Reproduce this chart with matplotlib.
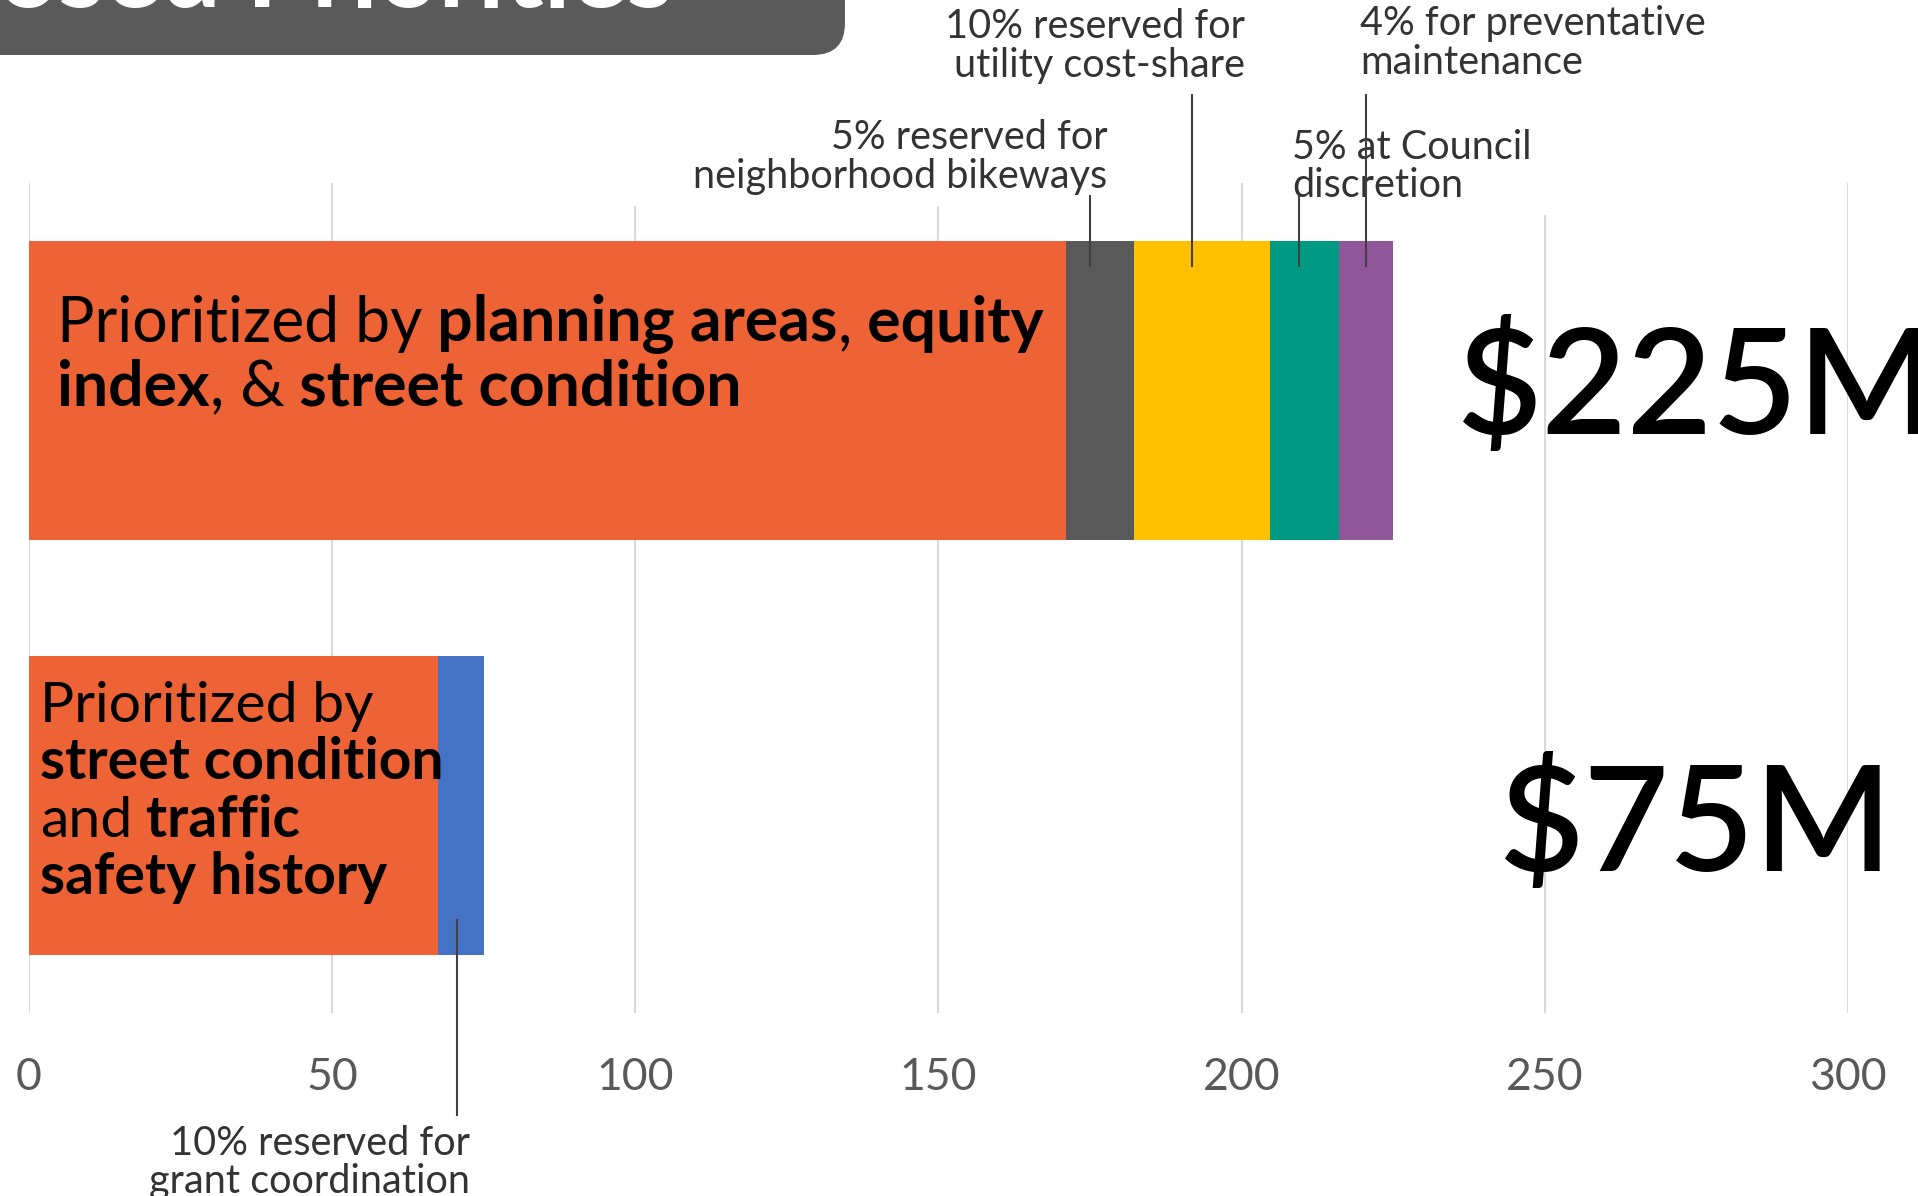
import matplotlib
matplotlib.use("Agg")
from matplotlib import pyplot as plt
from matplotlib.patches import FancyBboxPatch
import numpy as np

plt.rcParams['font.family'] = ['Lato', 'DejaVu Sans']

# funding split, $M
rows = [0, 1]
top_values = [171.0, 11.25, 22.5, 11.25, 9.0]
top_colors = ['#ED6335', '#595959', '#FFC000', '#009A84', '#8F5699']
bottom_values = [67.5, 7.5]
bottom_colors = ['#ED6335', '#4472C4']
totals = ['$225M', '$75M']
ticks = [0, 50, 100, 150, 200, 250, 300]

fig = plt.figure(figsize=(19.18, 11.96), dpi=100)
ax = fig.add_axes([0.015, 0.153, 0.9485, 0.694])

left = np.concatenate([[0], np.cumsum(top_values)[:-1]])
ax.barh(rows[0], top_values, left=left, height=0.72, color=top_colors, zorder=2)
left_b = np.concatenate([[0], np.cumsum(bottom_values)[:-1]])
ax.barh(rows[1], bottom_values, left=left_b, height=0.72, color=bottom_colors, zorder=2)

ax.set_xlim(0, 300)
ax.set_ylim(1.5, -0.5)
ax.set_xticks(ticks)
ax.set_xticklabels([str(t) for t in ticks])
ax.set_yticks([])
ax.tick_params(axis='x', length=0, pad=32, labelsize=32, labelcolor='#595959')
for s in ax.spines.values():
    s.set_visible(False)

# grid lines stop short where the callouts sit
grid_tops = [-0.5, -0.5, -0.445, -0.445, -0.5, -0.423, -0.5]
ax.vlines(ticks, 1.5, grid_tops, color='#D9D9D9', lw=1.5, zorder=0)


def rich_line(x, y, runs, size):
    prev = None
    for s, bold in runs:
        w = 'bold' if bold else 'normal'
        if prev is None:
            prev = ax.text(x, y, s, fontsize=size, fontweight=w, va='baseline',
                           ha='left', color='black', zorder=3)
        else:
            prev = ax.annotate(s, xy=(1, 0), xycoords=prev, va='bottom', ha='left',
                               fontsize=size, fontweight=w, color='black', zorder=3)


rich_line(4.66, -0.117, [("Prioritized by", False), (" planning areas", True),
                         (",", False), (" equity", True)], 45)
rich_line(4.66, 0.037, [("index", True), (", &", False), (" street condition", True)], 45)

rich_line(1.86, 0.799, [("Prioritized by", False)], 41)
rich_line(1.86, 0.936, [("street condition", True)], 41)
rich_line(1.86, 1.076, [("and", False), (" traffic", True)], 41)
rich_line(1.86, 1.213, [("safety history", True)], 41)

# totals
ax.text(275, 0.0, totals[0], fontsize=106, fontweight='semibold', ha='center',
        va='center', color='black', zorder=3)
ax.text(275, 1.053, totals[1], fontsize=106, fontweight='semibold', ha='center',
        va='center', color='black', zorder=3)

# callouts
note = dict(fontsize=28.5, fontweight='normal', color='#333333', va='center',
            linespacing=1.05, zorder=3)
ax.text(177.9, -0.563, "5% reserved for\nneighborhood bikeways", ha='right', **note)
ax.text(200.5, -0.830, "10% reserved for\nutility cost-share", ha='right', **note)
ax.text(208.3, -0.540, "5% at Council\ndiscretion", ha='left', **note)
ax.text(219.5, -0.837, "4% for preventative\nmaintenance", ha='left', **note)
ax.text(72.8, 1.860, "10% reserved for\ngrant coordination", ha='right', **note)

leader_x = [175.0, 191.8, 209.4, 220.5]
leader_top = [-0.469, -0.712, -0.469, -0.712]
for xm, yt in zip(leader_x, leader_top):
    ax.plot([xm, xm], [yt, -0.30], color='#404040', lw=1.5, clip_on=False, zorder=5)
ax.plot([70.6, 70.6], [1.276, 1.746], color='#404040', lw=1.5, clip_on=False, zorder=5)

# header banner, mostly cut off at the top
banner = FancyBboxPatch((-1.0, 11.41), 9.45, 2.0,
                        boxstyle='round,pad=0,rounding_size=0.32',
                        transform=fig.dpi_scale_trans, fc='#5A5A5A', ec='none')
fig.patches.append(banner)
fig.text(6.73, 11.89, "Proposed Priorities", transform=fig.dpi_scale_trans,
         fontsize=76, fontweight='bold', color='white', ha='right', va='baseline')

fig.savefig("out.png", dpi=100)
